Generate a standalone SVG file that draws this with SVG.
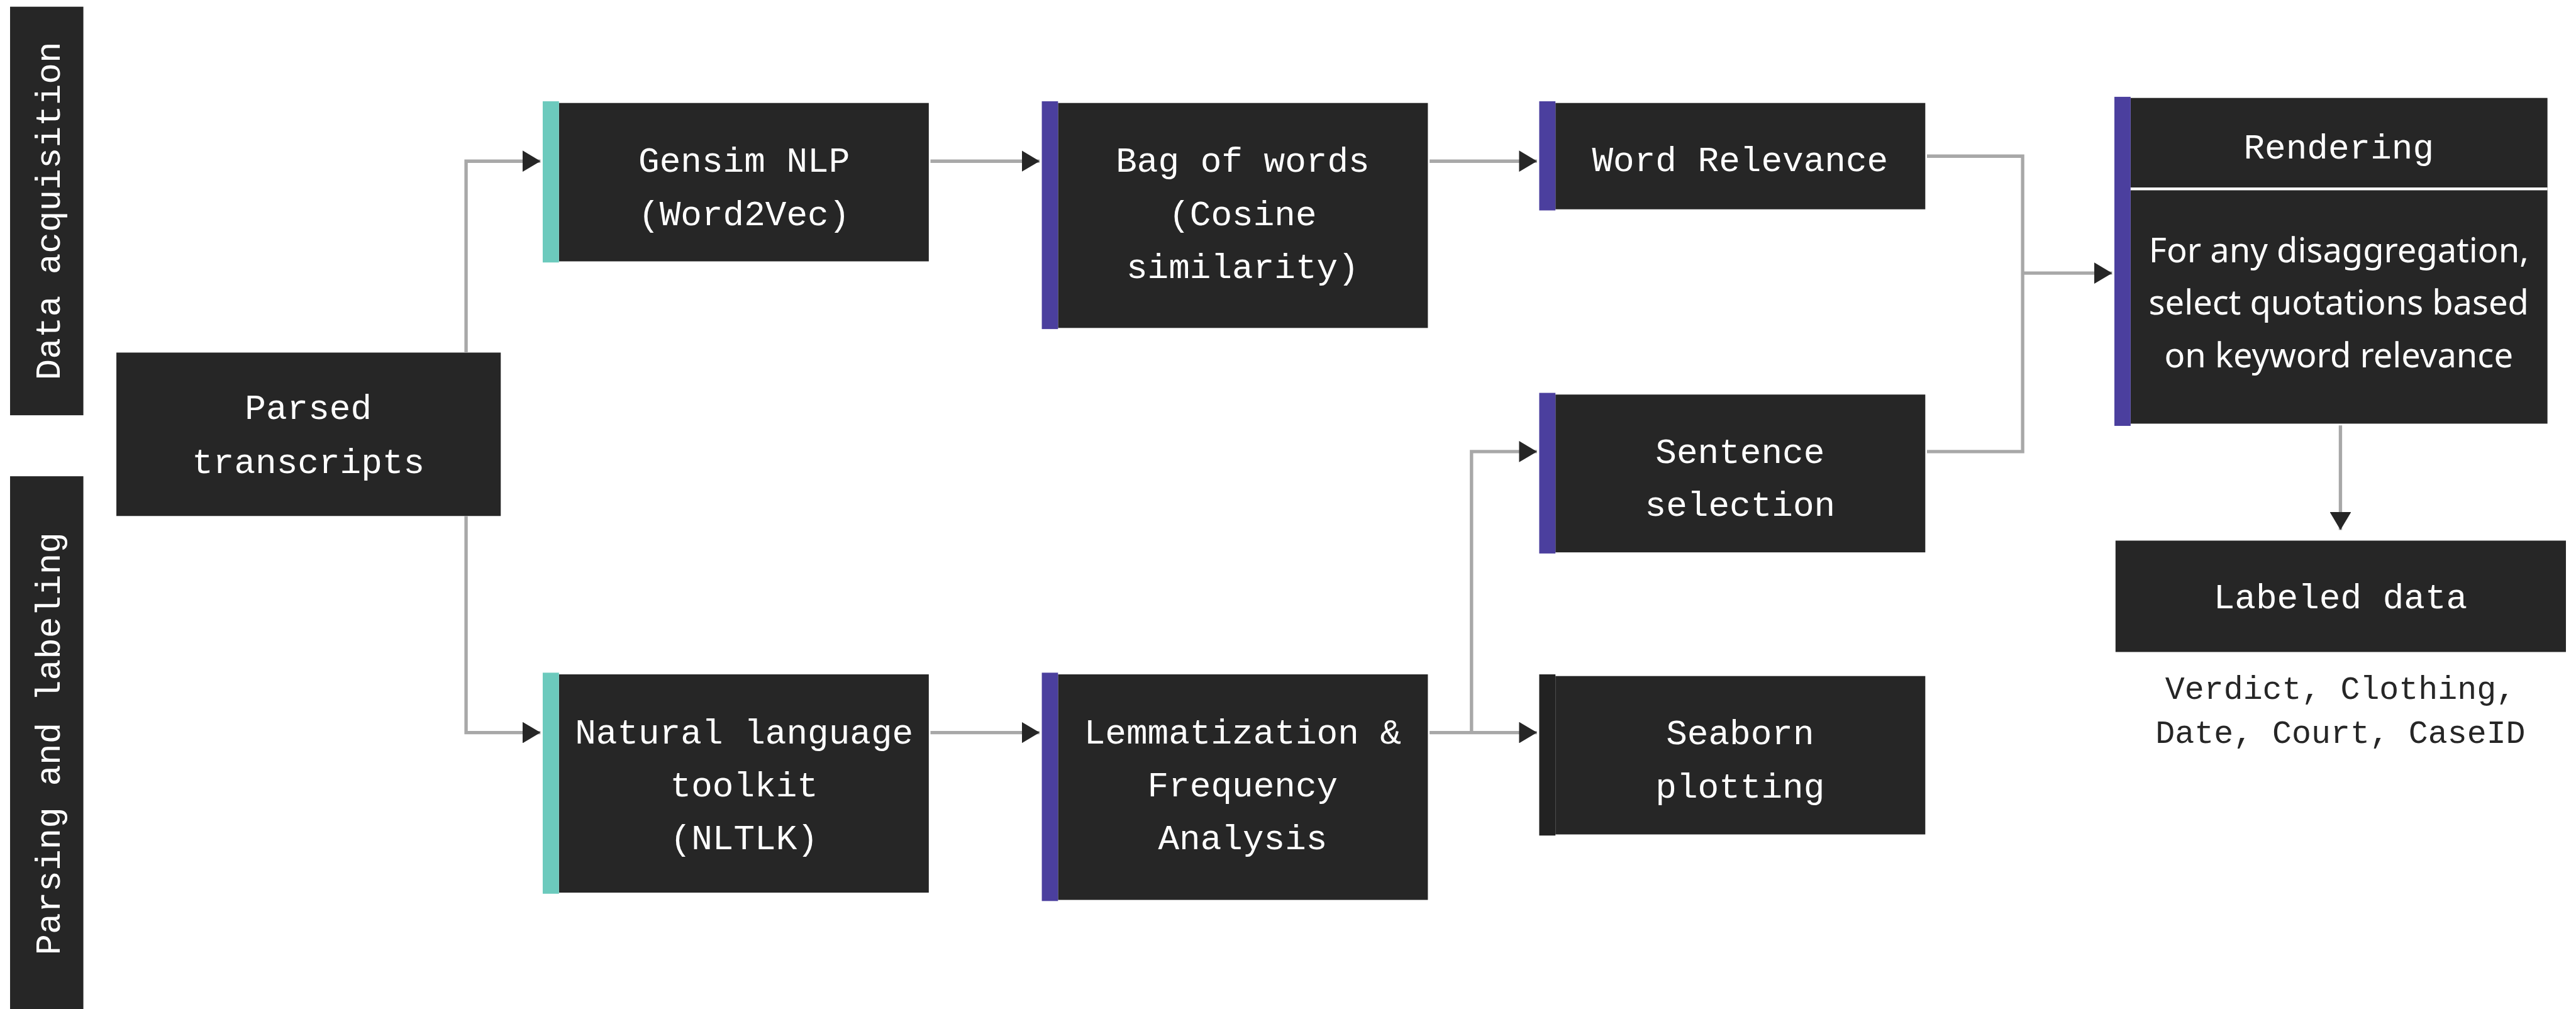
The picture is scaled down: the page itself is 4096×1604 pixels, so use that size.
<svg xmlns="http://www.w3.org/2000/svg" width="4096" height="1604" viewBox="0 0 4096 1604">
<defs>
<style>
.box{fill:#262626}
.teal{fill:#6ccabd}
.purp{fill:#4b3f9e}
.dbar{fill:#222222}
.t{font-family:"Liberation Mono","DejaVu Sans Mono",monospace;font-size:63px;fill:#ffffff;text-anchor:middle}
.s{font-family:"Noto Sans","Open Sans",sans-serif;font-size:61px;fill:#ffffff;text-anchor:middle}
.cap{font-family:"Liberation Mono","DejaVu Sans Mono",monospace;font-size:58px;fill:#262626;text-anchor:middle}
.c{fill:none;stroke:#a8a8a8;stroke-width:6}
</style>
<marker id="ah" viewBox="0 0 32 38" refX="32" refY="19" markerWidth="32" markerHeight="38" markerUnits="userSpaceOnUse" orient="auto">
<path d="M0,0 L32,19 L0,38 Z" fill="#262626"/>
</marker>
</defs>
<rect width="4096" height="1604" fill="#ffffff"/>
<g transform="scale(0.88966)">
<g id="lane-data-acquisition">
<rect class="box" x="18" y="12" width="131" height="730"/>
<text class="t" transform="translate(107,377) rotate(-90)">Data acquisition</text>
</g>
<g id="lane-parsing-labeling">
<rect class="box" x="18" y="851" width="131" height="960"/>
<text class="t" transform="translate(107,1329) rotate(-90)">Parsing and labeling</text>
</g>
<g id="parsed">
<rect class="box" x="208" y="630" width="687" height="292"/>
<text class="t" x="551" y="749">Parsed</text>
<text class="t" x="551" y="845">transcripts</text>
</g>
<g id="gensim">
<rect class="box" x="999" y="184" width="661" height="283"/>
<rect class="teal" x="970" y="181" width="29" height="288"/>
<text class="t" x="1330" y="307">Gensim NLP</text>
<text class="t" x="1330" y="402">(Word2Vec)</text>
</g>
<g id="bag">
<rect class="box" x="1891" y="184" width="661" height="402"/>
<rect class="purp" x="1862" y="181" width="29" height="407"/>
<text class="t" x="2221" y="307">Bag of words</text>
<text class="t" x="2221" y="402">(Cosine</text>
<text class="t" x="2221" y="497">similarity)</text>
</g>
<g id="word-relevance">
<rect class="box" x="2780" y="184" width="661" height="190"/>
<rect class="purp" x="2751" y="181" width="29" height="195"/>
<text class="t" x="3110" y="306">Word Relevance</text>
</g>
<g id="sentence">
<rect class="box" x="2780" y="705" width="661" height="282"/>
<rect class="purp" x="2751" y="702" width="29" height="287"/>
<text class="t" x="3110" y="827">Sentence</text>
<text class="t" x="3110" y="922">selection</text>
</g>
<g id="seaborn">
<rect class="box" x="2780" y="1208" width="661" height="283"/>
<rect class="dbar" x="2751" y="1205" width="29" height="288"/>
<text class="t" x="3110" y="1330">Seaborn</text>
<text class="t" x="3110" y="1425">plotting</text>
</g>
<g id="nltk">
<rect class="box" x="999" y="1205" width="661" height="390"/>
<rect class="teal" x="970" y="1202" width="29" height="395"/>
<text class="t" x="1330" y="1329">Natural language</text>
<text class="t" x="1330" y="1423">toolkit</text>
<text class="t" x="1330" y="1517">(NLTLK)</text>
</g>
<g id="lemma">
<rect class="box" x="1891" y="1205" width="661" height="403"/>
<rect class="purp" x="1862" y="1202" width="29" height="408"/>
<text class="t" x="2221" y="1329">Lemmatization &amp;</text>
<text class="t" x="2221" y="1423">Frequency</text>
<text class="t" x="2221" y="1517">Analysis</text>
</g>
<g id="rendering">
<rect class="box" x="3808" y="175" width="745" height="582"/>
<rect class="purp" x="3779" y="173" width="29" height="588"/>
<rect x="3808" y="335" width="745" height="5" fill="#ffffff"/>
<text class="t" x="4180" y="283">Rendering</text>
<text class="s" x="4180" y="469">For any disaggregation,</text>
<text class="s" x="4180" y="562">select quotations based</text>
<text class="s" x="4180" y="656">on keyword relevance</text>
</g>
<g id="labeled">
<rect class="box" x="3781" y="966" width="805" height="199"/>
<text class="t" x="4183" y="1087">Labeled data</text>
<text class="cap" x="4183" y="1249">Verdict, Clothing,</text>
<text class="cap" x="4183" y="1328">Date, Court, CaseID</text>
</g>
<g id="connectors">
<path class="c" d="M833,630 V288 H966" marker-end="url(#ah)"/>
<path class="c" d="M833,922 V1309 H966" marker-end="url(#ah)"/>
<path class="c" d="M1663,288 H1858" marker-end="url(#ah)"/>
<path class="c" d="M2555,288 H2747" marker-end="url(#ah)"/>
<path class="c" d="M1663,1309 H1858" marker-end="url(#ah)"/>
<path class="c" d="M2555,1309 H2747" marker-end="url(#ah)"/>
<path class="c" d="M2630,1309 V807 H2747" marker-end="url(#ah)"/>
<path class="c" d="M3444,279 H3615 V807 H3444"/>
<path class="c" d="M3615,488 H3775" marker-end="url(#ah)"/>
<path class="c" d="M4183,760 V947" marker-end="url(#ah)"/>
</g>
</g>
</svg>
